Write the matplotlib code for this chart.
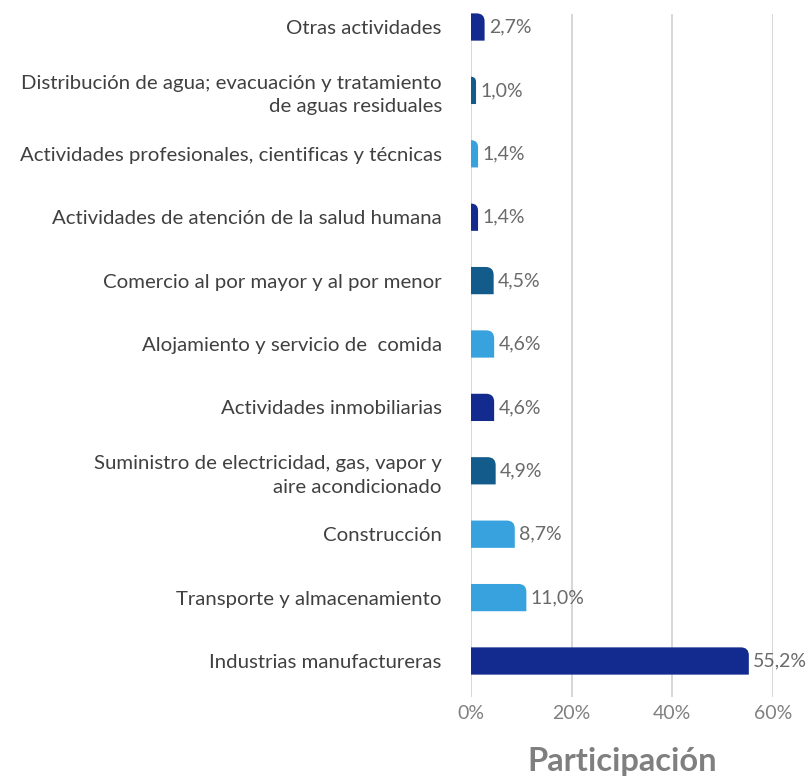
import matplotlib
matplotlib.use("Agg")
import matplotlib.pyplot as plt
from matplotlib.path import Path
from matplotlib.patches import PathPatch
from matplotlib.transforms import IdentityTransform

categories = [
    "Otras actividades",
    "Distribución de agua; evacuación y tratamiento\nde aguas residuales",
    "Actividades profesionales, cientificas y técnicas",
    "Actividades de atención de la salud humana",
    "Comercio al por mayor y al por menor",
    "Alojamiento y servicio de  comida",
    "Actividades inmobiliarias",
    "Suministro de electricidad, gas, vapor y\naire acondicionado",
    "Construcción",
    "Transporte y almacenamiento",
    "Industrias manufactureras",
]
values = [2.7, 1.0, 1.4, 1.4, 4.5, 4.6, 4.6, 4.9, 8.7, 11.0, 55.2]
x_ticks = [0, 20, 40, 60]
x_label = "Participación"

NAVY, MID, LIGHT = "#132a8f", "#125b8b", "#37a2de"
colors = [NAVY, MID, LIGHT, NAVY, MID, LIGHT, NAVY, MID, LIGHT, LIGHT, NAVY]

plt.rcParams["font.family"] = ["Lato", "DejaVu Sans"]

fig = plt.figure(figsize=(8.12, 7.78), dpi=100)
ax = fig.add_axes([471/812, 1-697/778, (773-471)/812, (697-14)/778])

ypos = list(range(len(categories)))
bars = ax.barh(ypos, values, height=0.43, color=colors)
ax.set_xlim(0, 60)
ax.set_ylim(len(categories) - 1 + 0.568, -0.205)

ax.set_yticks(ypos)
ax.set_yticklabels(categories, fontsize=14.7, color="#404040", ha="right",
                   multialignment="right", linespacing=1.45)
ax.tick_params(axis="y", length=0, pad=21)
ax.set_xticks(x_ticks)
ax.set_xticklabels([f"{t}%" for t in x_ticks], fontsize=14, color="#808080")
ax.tick_params(axis="x", length=0, pad=6)
ax.grid(axis="x", color="#d0d0d0", linewidth=1.2)
ax.set_axisbelow(True)
for s in ax.spines.values():
    s.set_visible(False)

ax.set_xlabel(x_label, fontsize=23.5, fontweight="bold", color="#7f7f7f", labelpad=18)

# rounded top-right corners
r = 8.0
for b in bars:
    x0, y0 = b.get_x(), b.get_y()
    w, h = b.get_width(), b.get_height()
    (dx0, dy0) = ax.transData.transform((x0, y0 + h))
    (dx1, dy1) = ax.transData.transform((x0 + w, y0))
    bot, top = min(dy0, dy1), max(dy0, dy1)
    rr = min(r, (dx1 - dx0), (top - bot) / 2)
    verts = [(dx0, bot), (dx1, bot), (dx1, top - rr), (dx1, top), (dx1 - rr, top),
             (dx0, top), (dx0, bot)]
    codes = [Path.MOVETO, Path.LINETO, Path.LINETO, Path.CURVE3, Path.CURVE3,
             Path.LINETO, Path.CLOSEPOLY]
    p = PathPatch(Path(verts, codes), facecolor=b.get_facecolor(), edgecolor="none",
                  transform=IdentityTransform(), zorder=3)
    fig.add_artist(p)
    b.set_visible(False)

for y, v in zip(ypos, values):
    ax.annotate(f"{v:.1f}%".replace(".", ","), xy=(v, y), xytext=(3, 0),
                textcoords="offset points", va="center", ha="left",
                fontsize=14, color="#6a6a6a")

fig.savefig("out.png", dpi=100)
